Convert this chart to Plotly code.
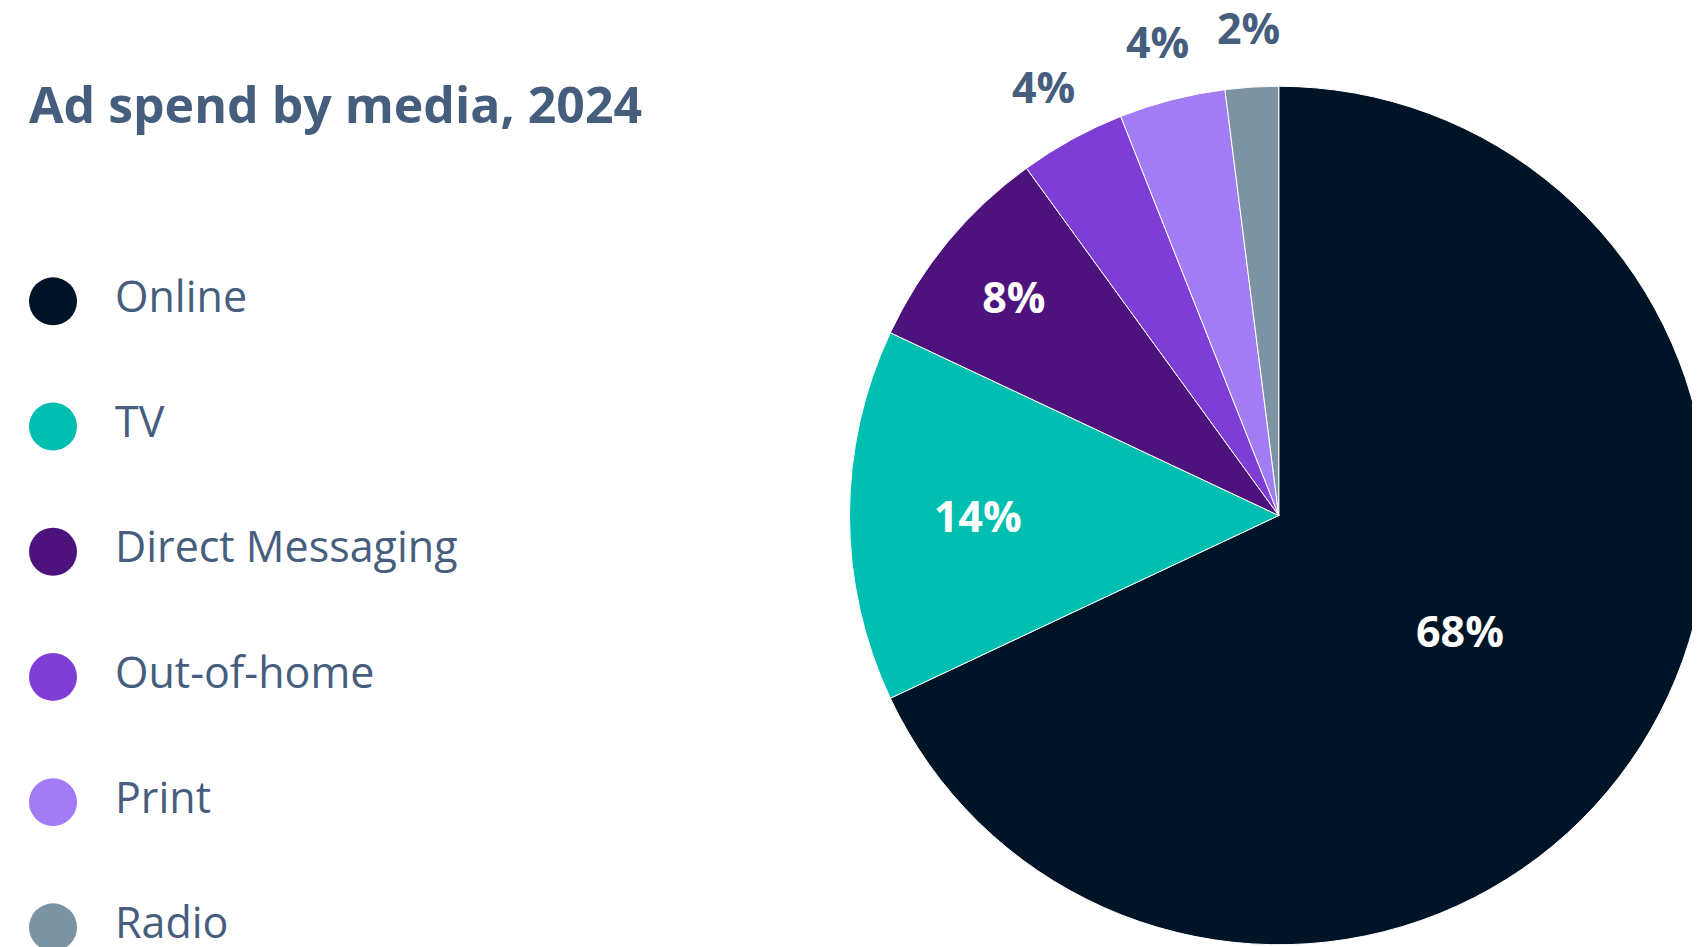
import math
import plotly.graph_objects as go

# Data
categories = ["Online", "TV", "Direct Messaging", "Out-of-home", "Print", "Radio"]
shares = [68, 14, 8, 4, 4, 2]
label_pos = ["inside", "inside", "inside", "none", "none", "none"]
colors = ["#001428", "#00BFB0", "#4E127D", "#7E3ED5", "#A27CF5", "#7B93A2"]
title_text = "Ad spend by media, 2024"

SLATE = "#465E7D"
FONT = "Open Sans"
W, H = 1700, 947

# Pie geometry (layout, in paper fractions)
PIE_X = [0.495, 1.0]
PIE_Y = [0.0108, 0.9174]
LABEL_R = 1.14  # outside labels placed at this multiple of the radius

fig = go.Figure()

fig.add_trace(go.Pie(
    labels=categories,
    values=shares,
    sort=False,
    direction="clockwise",
    rotation=0,
    marker=dict(colors=colors, line=dict(color="white", width=1)),
    textinfo="percent",
    texttemplate="%{percent:.0%}",
    textposition=label_pos,
    insidetextorientation="horizontal",
    insidetextfont=dict(family=FONT, size=43, color="white", weight=700),
    showlegend=False,
    hoverinfo="label+percent",
    domain=dict(x=PIE_X, y=PIE_Y),
))

# Outside labels for the small slices, placed along each slice's mid-angle
cx = (PIE_X[0] + PIE_X[1]) / 2 * W
cy = (PIE_Y[0] + PIE_Y[1]) / 2 * H
r = min((PIE_X[1] - PIE_X[0]) * W, (PIE_Y[1] - PIE_Y[0]) * H) / 2
total = sum(shares)
cum = 0
for cat, v, pos in zip(categories, shares, label_pos):
    mid = (cum + v / 2) / total * 2 * math.pi
    cum += v
    if pos != "none":
        continue
    px = cx + LABEL_R * r * math.sin(mid)
    py = cy + LABEL_R * r * math.cos(mid)
    fig.add_annotation(
        x=px / W, y=py / H, xref="paper", yref="paper",
        text=f"{round(v / total * 100)}%", showarrow=False,
        xanchor="center", yanchor="middle",
        font=dict(family=FONT, size=43, color=SLATE, weight=700),
    )

# Custom legend: circles + labels drawn via a hidden axis
fig.add_trace(go.Scatter(
    x=[0] * len(categories),
    y=categories,
    mode="markers",
    marker=dict(size=48, color=colors, line=dict(width=0)),
    showlegend=False,
    hoverinfo="skip",
    xaxis="x", yaxis="y",
))
fig.add_trace(go.Scatter(
    x=[62] * len(categories),
    y=categories,
    mode="text",
    text=categories,
    textposition="middle right",
    textfont=dict(family=FONT, size=43, color=SLATE),
    showlegend=False,
    hoverinfo="skip",
    xaxis="x", yaxis="y",
))

fig.update_layout(
    width=W, height=H,
    margin=dict(l=0, r=0, t=0, b=0, autoexpand=False),
    paper_bgcolor="white",
    plot_bgcolor="rgba(0,0,0,0)",
    font=dict(family=FONT, color=SLATE),
    title=dict(
        text=title_text,
        x=21 / W, xanchor="left", xref="paper",
        y=1 - 97 / H, yanchor="middle", yref="paper",
        font=dict(family=FONT, size=50, color=SLATE, weight=700),
    ),
    xaxis=dict(range=[-45, W - 45], visible=False, fixedrange=True, domain=[0, 1]),
    yaxis=dict(type="category", range=[5.221, -2.343], visible=False,
               fixedrange=True, domain=[0, 1]),
    showlegend=False,
)

fig.write_html("out.html")
